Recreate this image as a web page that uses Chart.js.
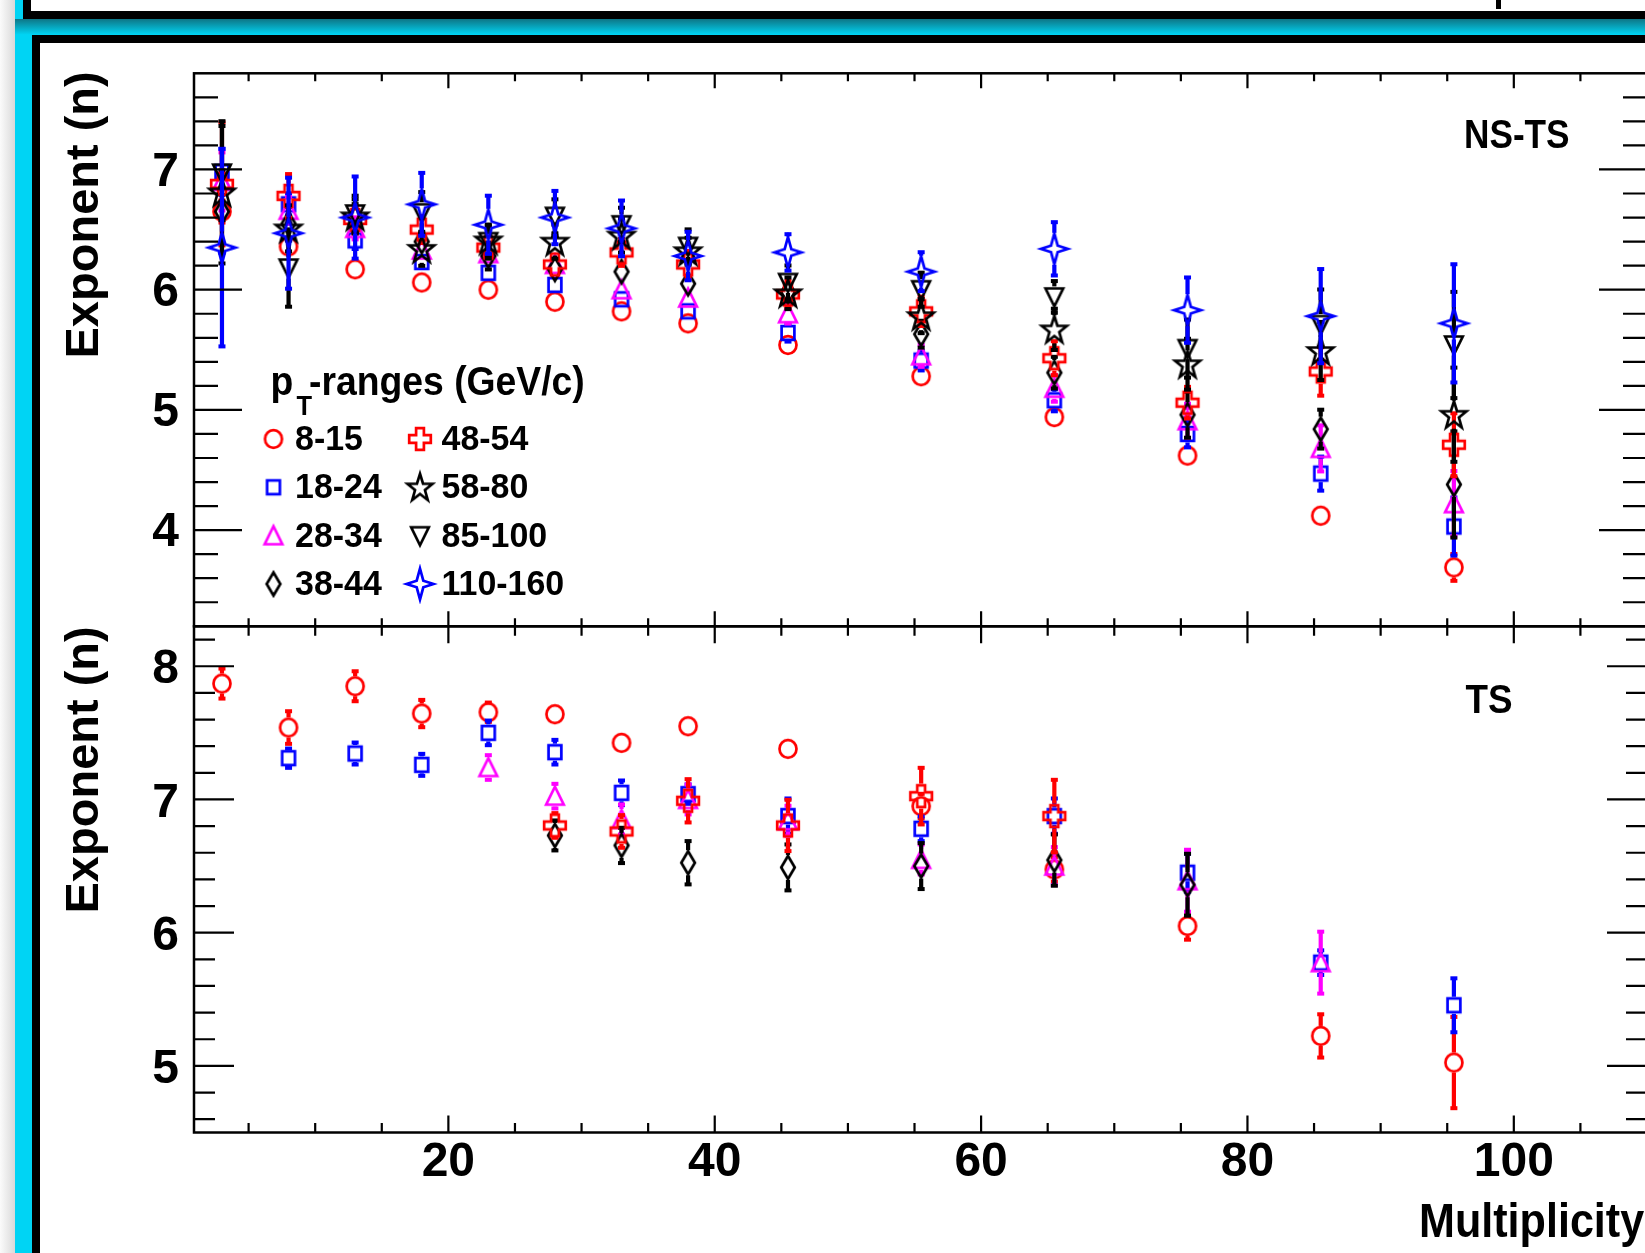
<!DOCTYPE html>
<html>
<head>
<meta charset="utf-8">
<script src="https://cdn.jsdelivr.net/npm/chart.js@4.4.1/dist/chart.umd.min.js"></script>
<style>
  html, body { margin: 0; padding: 0; width: 1645px; height: 1253px; overflow: hidden; background: #fff; }
  .deco { position: absolute; }
  #shade { left: 0; top: 0; width: 15px; height: 1253px; background: linear-gradient(to right, #fbfbfb, #d9d9d9); }
  #cyanEdge { left: 15px; top: 0; width: 17px; height: 1253px; background: #00d4f4; }
  #band { left: 15px; top: 19px; width: 1630px; height: 16px; background: linear-gradient(to bottom, #0e7686, #00d6f6); }
  #prevBox { left: 23px; top: 0; width: 1622px; height: 11px; border-left: 8px solid #000; border-bottom: 8px solid #000; background: #fff; }
  #box { left: 32px; top: 35px; width: 1613px; height: 1218px; border-left: 8px solid #000; border-top: 8px solid #000; background: #fff; }
  #stem { left: 1496px; top: 0; width: 5px; height: 9px; background: #000; }
  canvas { position: absolute; left: 0; }
  #nsts { top: 0; }
  #ts { top: 560px; }
</style>
</head>
<body>
<div class="deco" id="shade"></div>
<div class="deco" id="cyanEdge"></div>
<div class="deco" id="prevBox"></div>
<div class="deco" id="stem"></div>
<div class="deco" id="band"></div>
<div class="deco" id="box"></div>
<canvas id="nsts" width="1660" height="690"></canvas>
<canvas id="ts" width="1660" height="693"></canvas>
<script>
// multiplicity bin centres
const multiplicity = [3, 8, 13, 18, 23, 28, 33, 38, 45.5, 55.5, 65.5, 75.5, 85.5, 95.5];
const ptRanges = ['8-15', '18-24', '28-34', '38-44', '48-54', '58-80', '85-100', '110-160'];

// NS-TS exponent per pT range
const nsts815   = [6.65, 6.36, 6.17, 6.06, 6.00, 5.90, 5.82, 5.72, 5.54, 5.28, 4.94, 4.62, 4.12, 3.69];
const nsts1824  = [6.98, 6.71, 6.41, 6.23, 6.14, 6.04, 5.92, 5.82, 5.64, 5.41, 5.08, 4.80, 4.47, 4.03];
const nsts2834  = [6.90, 6.66, 6.51, 6.33, 6.30, 6.21, 6.00, 5.93, 5.80, 5.45, 5.18, 4.91, 4.68, 4.22];
const nsts3844  = [6.65, 6.55, 6.60, 6.40, 6.28, 6.17, 6.15, 6.05, 5.98, 5.63, 5.31, 4.96, 4.84, 4.38];
const nsts4854  = [6.88, 6.78, 6.58, 6.50, 6.35, 6.21, 6.31, 6.21, 5.96, 5.82, 5.43, 5.06, 5.32, 4.71];
const nsts5880  = [6.81, 6.51, 6.61, 6.34, 6.41, 6.40, 6.45, 6.32, 5.97, 5.78, 5.67, 5.38, 5.49, 4.96];
const nsts85100 = [6.97, 6.18, 6.63, 6.64, 6.40, 6.61, 6.54, 6.36, 6.06, 6.00, 5.94, 5.51, 5.71, 5.54];
const nsts110160 = [6.35, 6.47, 6.60, 6.71, 6.54, 6.60, 6.51, 6.28, 6.31, 6.15, 6.34, 5.83, 5.78, 5.72];

const nstsErr815   = [0.10, 0.06, 0.05, 0.05, 0.05, 0.05, 0.05, 0.05, 0.05, 0.06, 0.07, 0.07, 0.08, 0.12];
const nstsErr1824  = [0.20, 0.10, 0.08, 0.07, 0.07, 0.07, 0.07, 0.07, 0.08, 0.09, 0.10, 0.12, 0.15, 0.25];
const nstsErr2834  = [0.25, 0.12, 0.10, 0.08, 0.08, 0.08, 0.08, 0.08, 0.09, 0.10, 0.12, 0.15, 0.20, 0.28];
const nstsErr3844  = [0.35, 0.15, 0.12, 0.10, 0.12, 0.10, 0.10, 0.10, 0.10, 0.12, 0.14, 0.20, 0.17, 0.45];
const nstsErr4854  = [0.52, 0.19, 0.12, 0.12, 0.10, 0.10, 0.12, 0.12, 0.12, 0.13, 0.15, 0.14, 0.21, 0.27];
const nstsErr5880  = [0.60, 0.20, 0.15, 0.15, 0.13, 0.15, 0.15, 0.12, 0.14, 0.15, 0.18, 0.22, 0.25, 0.40];
const nstsErr85100 = [0.40, 0.33, 0.16, 0.18, 0.15, 0.15, 0.15, 0.15, 0.15, 0.15, 0.14, 0.25, 0.30, 0.45];
const nstsErr110160 = [0.83, 0.47, 0.35, 0.27, 0.25, 0.23, 0.24, 0.21, 0.16, 0.17, 0.23, 0.28, 0.40, 0.50];

// TS exponent per pT range (null = no point)
const ts815  = [7.87, 7.54, 7.85, 7.645, 7.655, 7.64, 7.425, 7.55, 7.38, 6.95, 6.475, 6.05, 5.225, 5.025];
const ts1824 = [null, 7.31, 7.345, 7.26, 7.50, 7.355, 7.05, 7.04, 6.875, 6.78, 6.875, 6.45, 5.775, 5.455];
const ts2834 = [null, null, null, null, 7.24, 7.025, 6.85, 7.00, 6.84, 6.55, 6.50, 6.39, 5.775, null];
const ts3844 = [null, null, null, null, null, 6.73, 6.655, 6.525, 6.49, 6.50, 6.545, 6.36, null, null];
const ts4854 = [null, null, null, null, null, 6.805, 6.76, 6.99, 6.805, 7.025, 6.875, null, null, null];

const tsErr815  = [0.12, 0.13, 0.12, 0.11, 0.08, 0.05, 0.05, 0.05, 0.05, 0.10, 0.10, 0.11, 0.17, 0.35];
const tsErr1824 = [null, 0.08, 0.09, 0.09, 0.10, 0.10, 0.10, 0.08, 0.14, 0.10, 0.14, 0.15, 0.10, 0.21];
const tsErr2834 = [null, null, null, null, 0.10, 0.10, 0.12, 0.12, 0.12, 0.12, 0.15, 0.24, 0.24, null];
const tsErr3844 = [null, null, null, null, null, 0.12, 0.14, 0.17, 0.18, 0.18, 0.20, 0.24, null, null];
const tsErr4854 = [null, null, null, null, null, 0.10, 0.13, 0.17, 0.20, 0.22, 0.28, null, null, null];

const xTickLabels = [20, 40, 60, 80, 100];
const yTicksNsts = [4, 5, 6, 7];
const yTicksTs = [5, 6, 7, 8];

const seriesColors = ['#ff0000', '#0000ff', '#ff00ff', '#000000', '#ff0000', '#000000', '#000000', '#0000ff'];
const markerShapes = ['circle', 'square', 'triUp', 'diamond', 'cross', 'star', 'triDown', 'star4'];
const markerHalf = [10, 8.5, 10.5, 12.5, 12.5, 14, 10.5, 16];

const FONT = '"Liberation Sans", Arial, Helvetica, sans-serif';

// hollow ROOT-style markers, rendered once and used as point images
function makeMarker(shape, color) {
  const c = document.createElement('canvas');
  c.width = 40; c.height = 40;
  const g = c.getContext('2d');
  g.translate(20, 20);
  g.strokeStyle = color;
  g.lineWidth = 2.7;
  g.lineJoin = 'miter';
  g.beginPath();
  if (shape === 'circle') {
    g.ellipse(0, 0, 8.5, 8.8, 0, 0, Math.PI * 2);
  } else if (shape === 'square') {
    g.rect(-6.4, -6.9, 12.8, 13.8);
  } else if (shape === 'triUp') {
    g.moveTo(0, -9.5); g.lineTo(8.8, 8.5); g.lineTo(-8.8, 8.5); g.closePath();
  } else if (shape === 'triDown') {
    g.moveTo(0, 9.5); g.lineTo(8.8, -8.5); g.lineTo(-8.8, -8.5); g.closePath();
  } else if (shape === 'diamond') {
    g.moveTo(0, -11.5); g.lineTo(6.8, 0); g.lineTo(0, 11.5); g.lineTo(-6.8, 0); g.closePath();
  } else if (shape === 'cross') {
    const s = 10.8, a = 3.9;
    const pts = [[-a, -s], [a, -s], [a, -a], [s, -a], [s, a], [a, a], [a, s], [-a, s], [-a, a], [-s, a], [-s, -a], [-a, -a]];
    pts.forEach((p, i) => i ? g.lineTo(p[0], p[1]) : g.moveTo(p[0], p[1]));
    g.closePath();
  } else if (shape === 'star') {
    for (let i = 0; i < 10; i++) {
      const ang = -Math.PI / 2 + i * Math.PI / 5;
      const rad = i % 2 === 0 ? 13.2 : 5.2;
      const px = rad * Math.cos(ang), py = rad * Math.sin(ang) * 1.1 + 1;
      i ? g.lineTo(px, py) : g.moveTo(px, py);
    }
    g.closePath();
  } else if (shape === 'star4') {
    const R = 13.5, Rv = 15.5, r = 3.3;
    g.moveTo(0, -Rv); g.lineTo(r, -r); g.lineTo(R, 0); g.lineTo(r, r);
    g.lineTo(0, Rv); g.lineTo(-r, r); g.lineTo(-R, 0); g.lineTo(-r, -r);
    g.closePath();
  }
  g.stroke();
  return c;
}

const markerImages = markerShapes.map((s, k) => makeMarker(s, seriesColors[k]));

function buildSets(values, errors) {
  const sets = [];
  values.forEach((vals, k) => {
    const pts = [];
    multiplicity.forEach((m, i) => {
      if (vals[i] !== null) pts.push({ x: m, y: vals[i], e: errors[k][i] });
    });
    sets.push({
      label: ptRanges[k],
      data: pts,
      pointStyle: markerImages[k],
      pointRadius: 12,
      borderColor: seriesColors[k],
      backgroundColor: seriesColors[k],
      half: markerHalf[k],
      order: 10 - k
    });
  });
  return sets;
}

// vertical error bars, drawn just before each dataset's markers
const errorBars = {
  id: 'errorBars',
  beforeDatasetDraw(chart, args) {
    const ds = chart.data.datasets[args.index];
    const xs = chart.scales.x, ys = chart.scales.y, a = chart.chartArea;
    const ctx = chart.ctx;
    ctx.save();
    ctx.beginPath();
    ctx.rect(a.left, a.top, a.right - a.left, a.bottom - a.top);
    ctx.clip();
    ctx.fillStyle = ds.borderColor;
    ds.data.forEach(p => {
      const px = xs.getPixelForValue(p.x);
      const yc = ys.getPixelForValue(p.y);
      const yHi = ys.getPixelForValue(p.y + p.e);
      const yLo = ys.getPixelForValue(p.y - p.e);
      if (yc - yHi > ds.half) {
        ctx.fillRect(px - 2.1, yHi, 4.2, yc - ds.half - yHi);
        ctx.fillRect(px - 3.5, yHi - 1, 7, 4);
      }
      if (yLo - yc > ds.half) {
        ctx.fillRect(px - 2.1, yc + ds.half, 4.2, yLo - yc - ds.half);
        ctx.fillRect(px - 3.5, yLo - 3, 7, 4);
      }
    });
    ctx.restore();
  }
};

// frame with inward ticks on all four sides
const rootFrame = {
  id: 'rootFrame',
  afterDatasetsDraw(chart, args, opts) {
    const { ctx, chartArea: a } = chart;
    const xs = chart.scales.x, ys = chart.scales.y;
    ctx.save();
    ctx.strokeStyle = '#000';
    ctx.lineWidth = 2.5;
    ctx.strokeRect(a.left, a.top, a.right - a.left, a.bottom - a.top);
    ctx.lineWidth = 2.2;
    ctx.beginPath();
    for (let v = 5; v < xs.max; v += 5) {
      const px = xs.getPixelForValue(v);
      const len = v % 20 === 0 ? opts.xMajor : opts.xMinor;
      ctx.moveTo(px, a.top); ctx.lineTo(px, a.top + len);
      ctx.moveTo(px, a.bottom); ctx.lineTo(px, a.bottom - len);
    }
    for (let k = Math.ceil(ys.min * 5 + 1e-6); k < ys.max * 5 - 1e-6; k++) {
      const py = ys.getPixelForValue(k / 5);
      const len = k % 5 === 0 ? opts.yMajor : opts.yMinor;
      ctx.moveTo(a.left, py); ctx.lineTo(a.left + len, py);
      ctx.moveTo(a.right, py); ctx.lineTo(a.right - len, py);
    }
    ctx.stroke();
    ctx.restore();
  }
};

function drawText(ctx, str, x, y, size, sx, align) {
  ctx.save();
  ctx.translate(x, y);
  ctx.scale(sx, 1);
  ctx.font = 'bold ' + size + 'px ' + FONT;
  ctx.fillStyle = '#000';
  ctx.textAlign = align || 'left';
  ctx.textBaseline = 'alphabetic';
  ctx.fillText(str, 0, 0);
  ctx.restore();
}

function drawYTitle(ctx, topY) {
  ctx.save();
  ctx.translate(98, topY);
  ctx.rotate(-Math.PI / 2);
  ctx.font = 'bold 47px ' + FONT;
  ctx.fillStyle = '#000';
  ctx.textAlign = 'right';
  ctx.fillText('Exponent (n)', 0, 0);
  ctx.restore();
}

const nstsText = {
  id: 'nstsText',
  afterDraw(chart) {
    const ctx = chart.ctx;
    drawYTitle(ctx, chart.chartArea.top - 2);
    drawText(ctx, 'NS-TS', 1464, 148, 40, 0.88);
    // legend header: p_T-ranges (GeV/c)
    drawText(ctx, 'p', 270.5, 395, 41, 0.91);
    drawText(ctx, 'T', 296.5, 415, 28, 0.91);
    drawText(ctx, '-ranges (GeV/c)', 309, 395, 41, 0.91);
    const colX = [273.5, 420];
    const rowY = [450, 498.3, 546.7, 595];
    ptRanges.forEach((name, k) => {
      const cx = colX[Math.floor(k / 4)], by = rowY[k % 4];
      ctx.drawImage(markerImages[k], cx - 20, by - 11 - 20);
      drawText(ctx, name, cx + 21.5, by, 35, 0.97);
    });
  }
};

const tsText = {
  id: 'tsText',
  afterDraw(chart) {
    const ctx = chart.ctx;
    drawYTitle(ctx, chart.chartArea.top);
    drawText(ctx, 'TS', 1465.5, 153.3, 40, 0.92);
    drawText(ctx, 'Multiplicity', 1419, 677, 49, 0.88);
  }
};

const tickFont = { family: FONT, size: 48, weight: 'bold', lineHeight: 1 };

function yScale(min, max, ticks, shift) {
  return {
    type: 'linear', min: min, max: max,
    afterBuildTicks: s => { s.ticks = ticks.map(v => ({ value: v })); },
    afterFit: s => { s.width = 194; },
    grid: { display: false }, border: { display: false },
    ticks: { font: tickFont, color: '#000', padding: 7, labelOffset: shift }
  };
}

new Chart(document.getElementById('nsts'), {
  type: 'scatter',
  data: { datasets: buildSets([nsts815, nsts1824, nsts2834, nsts3844, nsts4854, nsts5880, nsts85100, nsts110160],
    [nstsErr815, nstsErr1824, nstsErr2834, nstsErr3844, nstsErr4854, nstsErr5880, nstsErr85100, nstsErr110160]) },
  options: {
    responsive: false, animation: false, events: [],
    layout: { padding: { left: 0, top: 73.3, right: 12, bottom: 690 - 626.3 } },
    plugins: { legend: { display: false }, tooltip: { enabled: false },
      rootFrame: { xMajor: 15, xMinor: 8, yMajor: 48, yMinor: 24 } },
    scales: {
      x: { type: 'linear', min: 0.9, max: 110, display: false },
      y: yScale(3.2, 7.8, yTicksNsts, 3)
    }
  },
  plugins: [errorBars, rootFrame, nstsText]
});

new Chart(document.getElementById('ts'), {
  type: 'scatter',
  data: { datasets: buildSets([ts815, ts1824, ts2834, ts3844, ts4854],
    [tsErr815, tsErr1824, tsErr2834, tsErr3844, tsErr4854]) },
  options: {
    responsive: false, animation: false, events: [],
    layout: { padding: { left: 0, top: 66.3, right: 12, bottom: 0 } },
    plugins: { legend: { display: false }, tooltip: { enabled: false },
      rootFrame: { xMajor: 17, xMinor: 9.5, yMajor: 40, yMinor: 21 } },
    scales: {
      x: {
        type: 'linear', min: 0.9, max: 110,
        afterBuildTicks: s => { s.ticks = xTickLabels.map(v => ({ value: v })); },
        afterFit: s => { s.height = 693 - 572.5; },
        grid: { display: false }, border: { display: false },
        ticks: { font: tickFont, color: '#000', padding: -2, maxRotation: 0 }
      },
      y: yScale(4.5, 8.3, yTicksTs, 4)
    }
  },
  plugins: [errorBars, rootFrame, tsText]
});
</script>
</body>
</html>
